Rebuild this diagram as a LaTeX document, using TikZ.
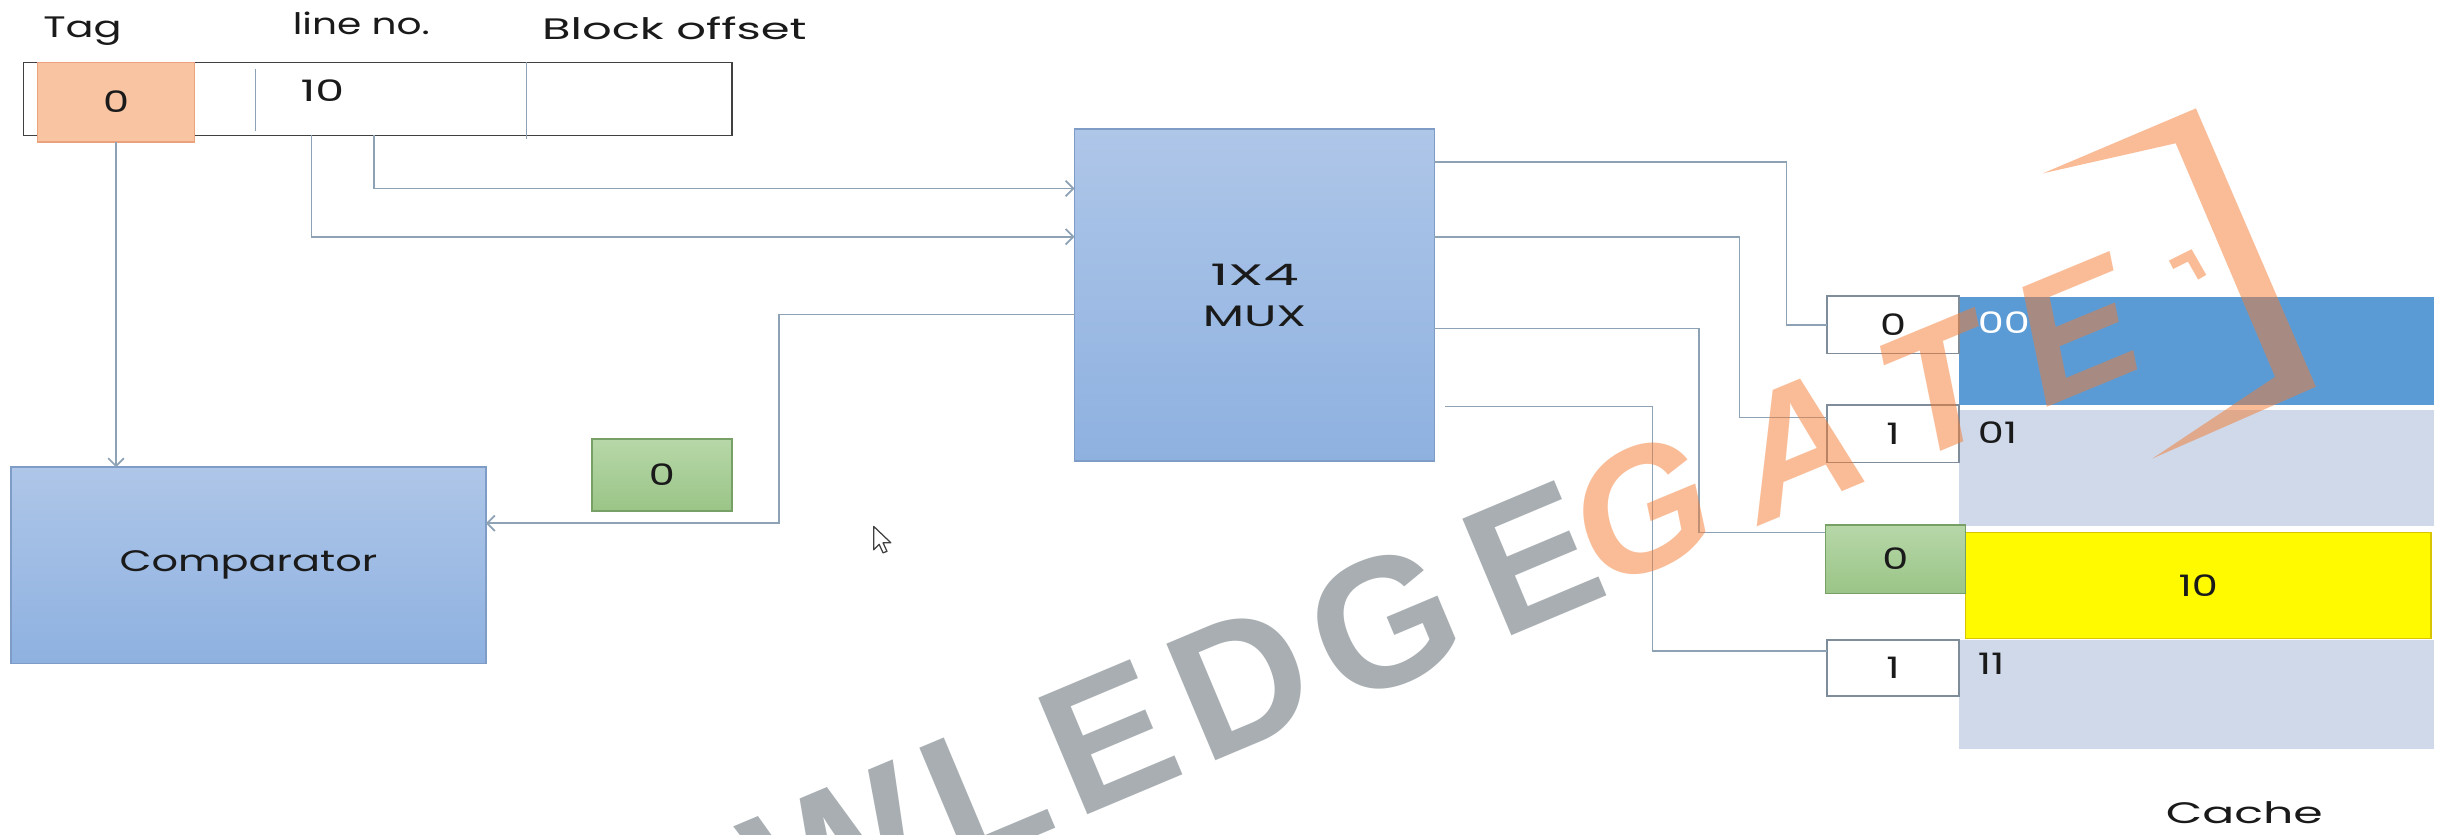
\documentclass[tikz,border=0pt]{standalone}
\usepackage{fontspec}
\usepackage{graphicx}
\usetikzlibrary{arrows.meta}
\setmainfont{Poppins}
\newfontfamily\wmfont{Liberation Sans}
\newcommand\advf{\fontsize{19}{26.5}\selectfont}
\newcommand\sx[2][1.40]{\scalebox{#1}[1]{#2}}
\definecolor{wirec}{HTML}{8DA2B5}
\definecolor{addrc}{HTML}{404040}
\definecolor{tagfill}{HTML}{F8C4A2}
\definecolor{tagdraw}{HTML}{E9A27C}
\definecolor{bluetop}{HTML}{AEC6E8}
\definecolor{bluebot}{HTML}{8EB1E0}
\definecolor{bluedraw}{HTML}{7E9CC6}
\definecolor{greentop}{HTML}{B7D7A8}
\definecolor{greenbot}{HTML}{9AC587}
\definecolor{greendraw}{HTML}{77A066}
\definecolor{cacheblue}{HTML}{5B9BD5}
\definecolor{cachelight}{HTML}{CFD9EA}
\definecolor{cacheyellow}{HTML}{FFFA00}
\definecolor{yellowdraw}{HTML}{D9C400}
\definecolor{bitdraw}{HTML}{7F8C99}
\definecolor{wmgray}{HTML}{A8AEB1}
\definecolor{wmorange}{HTML}{F47B30}
\definecolor{txtc}{HTML}{1A1A1A}
\tikzset{
  box/.style={rectangle, inner sep=0pt, outer sep=0pt, anchor=north west, font=\advf, text=txtc},
  gradbox/.style={box, top color=bluetop, bottom color=bluebot, draw=bluedraw, line width=1pt},
  greenbox/.style={box, top color=greentop, bottom color=greenbot, draw=greendraw, line width=1pt},
  bitbox/.style={box, fill=white, draw=bitdraw, line width=1pt, minimum width=85, minimum height=37},
  lbl/.style={inner sep=0pt, outer sep=0pt, font=\advf, text=txtc},
  wire/.style={draw=wirec, line width=1.1pt},
  wirearrow/.style={wire, -{Straight Barb[length=5pt,width=10pt]}},
  wmgrey/.style={rotate=22.8, anchor=base west, inner sep=0pt, outer sep=0pt, text=wmgray,
    font=\wmfont\bfseries\fontsize{118}{118}\selectfont},
  wmor/.style={rotate=22.5, anchor=base west, inner sep=0pt, outer sep=0pt,
    text=wmorange, text opacity=0.5, font=\wmfont\bfseries\itshape\fontsize{112}{112}\selectfont}
}
\begin{document}
\begin{tikzpicture}[x=1pt,y=-1pt]
\useasboundingbox (0,0) rectangle (1568,536);
\fill[white] (0,0) rectangle (1568,536);

% address fields
\node[lbl, anchor=base] (taglbl) at (53,24) {\sx{Tag}};
\node[lbl, anchor=base] (linelbl) at (232,22) {\sx[1.32]{line no.}};
\node[lbl, anchor=base] (offlbl) at (433,25.5) {\sx[1.57]{Block offset}};
\node[box, draw=addrc, line width=1pt, minimum width=455, minimum height=47] (addr) at (15,40) {};
\node[box, fill=tagfill, draw=tagdraw, line width=1pt, minimum width=101, minimum height=51] (tag) at (24,40) {\sx{0}};
\draw[wirec, line width=1pt] (164,44) -- (164,84);
\draw[wirec, line width=1pt] (338,40) -- (338,89);
\node[lbl] (lineval) at (207,58) {\sx[1.55]{10}};

% blocks
\node[gradbox, minimum width=305, minimum height=126] (comp) at (7,300) {\sx{Comparator}};
\node[greenbox, minimum width=90, minimum height=46] (gtag) at (380,282) {\sx{0}};
\node[gradbox, minimum width=231, minimum height=213, align=center] (mux) at (690,83) {\sx[1.9]{1X4}\\\sx[1.62]{MUX}};

% cache
\node[box, fill=cacheblue, minimum width=305, minimum height=69] (c0) at (1258,191) {};
\node[box, fill=cachelight, minimum width=305, minimum height=75] (c1) at (1258,263) {};
\node[box, fill=cacheyellow, draw=yellowdraw, line width=1pt, minimum width=299, minimum height=68] (c2) at (1262,342) {\sx{10}};
\node[box, fill=cachelight, minimum width=305, minimum height=70] (c3) at (1258,411) {};
\node[lbl, anchor=west, text=white] (c0t) at (1270,207) {\sx{00}};
\node[lbl, anchor=west] (c1t) at (1270,278) {\sx{01}};
\node[lbl, anchor=west] (c3t) at (1270,426) {\sx{11}};
\node[lbl] (cachelbl) at (1441,522) {\sx[1.6]{Cache}};

% valid bits
\node[bitbox] (b0) at (1173,190) {\sx{0}};
\node[bitbox] (b1) at (1173,260) {\sx{1}};
\node[greenbox, minimum width=90, minimum height=44] (g0) at (1172,337) {\sx{0}};
\node[bitbox, minimum height=36] (b3) at (1173,411) {\sx{1}};

% wires
\draw[wirearrow] (addr.south -| 240,0) |- (mux.west |- 0,121);
\draw[wirearrow] (addr.south -| 200,0) |- (mux.west |- 0,152);
\draw[wirearrow] (tag.south) -- (tag.south |- comp.north);
\draw[wirearrow] (mux.west |- 0,202) -- (500,202) |- (comp.east |- 0,336);
\draw[wire] (mux.east |- 0,104) -| (1147,160) |- (b0.west);
\draw[wire] (mux.east |- 0,152) -| (1117,200) |- (b1.west |- 0,268);
\draw[wire] (mux.east |- 0,211) -| (1091,300) |- (g0.west |- 0,342);
\draw[wire] ([xshift=7pt]mux.east |- 0,261) -| (1061,300) |- (b3.west |- 0,418);

% mouse pointer
\filldraw[fill=white, draw=black!75, line width=0.8pt, line join=round]
  (561,338) -- (561,353) -- (564.5,349.5) -- (567,355) -- (569.5,354) -- (567,348.5) -- (572,348.5) -- cycle;

% watermark
\begin{scope}
\clip (0,0) rectangle (1568,536);
\node[wmgrey] (wmW) at (502.7,605.5) {W};
\node[wmgrey] (wmL) at (615.1,558.3) {L};
\node[wmgrey] (wmE) at (691.3,526.3) {E};
\node[wmgrey] (wmD) at (773.5,491.7) {D};
\node[wmgrey] (wmG) at (861.7,454.6) {G};
\node[wmgrey] (wmE2) at (963.5,411.5) {E};
\node[wmor] (wmG2) at (1028,380) {G};
\node[wmor] (wmA) at (1130.5,337.5) {A};
\node[wmor] (wmT) at (1227.2,297.4) {T};
\node[wmor] (wmE3) at (1312.7,262) {E};
\fill[wmorange, opacity=0.5] (1311.7,111.3) -- (1410,69.6) -- (1487,248.3) -- (1382,294.4) -- (1460.8,242) -- (1397,92) -- cycle;
\draw[wmorange, opacity=0.5, line width=6pt] (1394,170) -- (1406,164) -- (1414,178);
\end{scope}
\end{tikzpicture}
\end{document}
